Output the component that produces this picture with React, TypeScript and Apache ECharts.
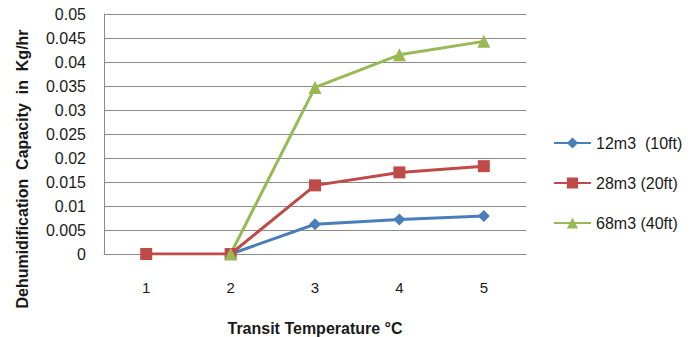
import React, { useEffect, useRef } from "react";
import * as echarts from "echarts";

const categories = ["1", "2", "3", "4", "5"];
const series12 = [null, 0, 0.0062, 0.0072, 0.0079];
const series28 = [0, 0, 0.0143, 0.017, 0.0183];
const series68 = [null, 0, 0.0347, 0.0415, 0.0443];
const seriesNames = ["12m3  (10ft)", "28m3 (20ft)", "68m3 (40ft)"];
const yTitle = "Dehumidification  Capacity  in  Kg/hr";
const xTitle = "Transit Temperature °C";

const FONT = "'Liberation Sans', 'DejaVu Sans', sans-serif";

export default function App() {
  const ref = useRef<HTMLDivElement>(null);
  useEffect(() => {
    if (!ref.current) return;
    const chart = echarts.init(ref.current, undefined, { renderer: "svg" });
    const mk = (name: string, data: any[], color: string, symbol: string, size: number) => ({
      name,
      type: "line",
      data,
      symbol,
      symbolSize: size,
      lineStyle: { color, width: 3 },
      itemStyle: { color },
      connectNulls: false,
    });
    chart.setOption({
      animation: false,
      backgroundColor: "#ffffff",
      textStyle: { fontFamily: FONT },
      grid: {
        left: 104,
        right: 171,
        top: 14,
        bottom: 83,
        containLabel: false,
        outerBoundsMode: "none",
      },
      legend: {
        orient: "vertical",
        left: 548,
        top: 130,
        itemGap: 24,
        itemWidth: 37,
        itemHeight: 14,
        itemTextGap: 3,
        textStyle: { fontSize: 16, color: "#1a1a1a", fontFamily: FONT },
        data: seriesNames,
      },
      xAxis: {
        type: "category",
        data: categories,
        boundaryGap: true,
        axisLine: { lineStyle: { color: "#8a8a8a", width: 1 } },
        axisTick: { show: false },
        axisLabel: { fontSize: 15, color: "#1a1a1a", margin: 26 },
        name: xTitle,
        nameLocation: "middle",
        nameGap: 66,
        nameTextStyle: { fontSize: 16, fontWeight: "bold", color: "#1a1a1a" },
      },
      yAxis: {
        type: "value",
        min: 0,
        max: 0.05,
        interval: 0.005,
        axisLine: { show: true, lineStyle: { color: "#8a8a8a", width: 1 } },
        axisTick: { show: false },
        splitLine: { lineStyle: { color: "#8a8a8a", width: 1 } },
        axisLabel: {
          fontSize: 16,
          color: "#1a1a1a",
          margin: 18,
          formatter: (v: number) => String(parseFloat(v.toFixed(3))),
        },
      },
      graphic: [
        {
          type: "text",
          x: 22,
          y: 169,
          rotation: Math.PI / 2,
          style: {
            text: yTitle,
            fontSize: 16,
            fontWeight: "bold",
            fontFamily: FONT,
            fill: "#1a1a1a",
            align: "center",
            verticalAlign: "middle",
          },
        },
      ],
      series: [
        mk(seriesNames[0], series12, "#4a7ebb", "diamond", 12),
        mk(seriesNames[1], series28, "#be4b48", "rect", 12),
        mk(seriesNames[2], series68, "#98b954", "triangle", 13),
      ],
    });
    return () => chart.dispose();
  }, []);
  return (
    <div
      ref={ref}
      style={{ position: "fixed", left: 0, top: 0, width: 697, height: 337 }}
    />
  );
}
